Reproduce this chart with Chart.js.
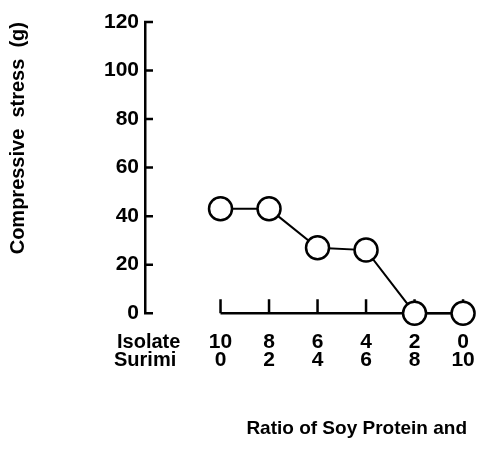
<!DOCTYPE html>
<html>
<head>
<meta charset="utf-8">
<script src="https://cdn.jsdelivr.net/npm/chart.js@4.4.1/dist/chart.umd.min.js"></script>
<style>
  html, body { margin: 0; padding: 0; background: #fff; }
  #wrap { width: 479px; height: 463px; }
</style>
</head>
<body>
<div id="wrap"><canvas id="chart" width="479" height="463"></canvas></div>
<script>
// ratio labels (soy protein isolate : surimi)
const isolate = ["10", "8", "6", "4", "2", "0"];
const surimi = ["0", "2", "4", "6", "8", "10"];
const stress = [43, 43, 27, 26, 0, 0];
const yTicks = [0, 20, 40, 60, 80, 100, 120];
const rowNames = ["Isolate", "Surimi"];

const FONT = "'Liberation Sans', Arial, sans-serif";

// x axis is detached from the y axis: short line with upward ticks, two label rows
const ratioAxis = {
  id: "ratioAxis",
  beforeDatasetsDraw(chart) {
    const { ctx, scales: { x, y } } = chart;
    const y0 = y.getPixelForValue(0);
    ctx.save();
    ctx.strokeStyle = "#000";
    ctx.lineWidth = 2.5;
    ctx.beginPath();
    ctx.moveTo(x.getPixelForValue(0), y0);
    ctx.lineTo(x.getPixelForValue(isolate.length - 1), y0);
    isolate.forEach((_, i) => {
      const px = x.getPixelForValue(i);
      ctx.moveTo(px, y0);
      ctx.lineTo(px, y0 - 14);
    });
    ctx.stroke();

    // y tick marks point into the plot
    ctx.beginPath();
    yTicks.forEach(v => {
      const py = y.getPixelForValue(v);
      ctx.moveTo(y.right - 1, py);
      ctx.lineTo(y.right + 8, py);
    });
    ctx.stroke();
    ctx.restore();
  },
  afterDraw(chart) {
    const { ctx, scales: { x, y } } = chart;
    const y0 = y.getPixelForValue(0);
    ctx.save();
    ctx.fillStyle = "#000";
    ctx.textBaseline = "alphabetic";
    const rows = [isolate, surimi];
    rows.forEach((row, r) => {
      const by = y0 + 35 + r * 18;
      ctx.font = "bold 21px " + FONT;
      ctx.textAlign = "center";
      row.forEach((lab, i) => ctx.fillText(lab, x.getPixelForValue(i), by));
      ctx.font = "bold 20px " + FONT;
      ctx.textAlign = "left";
      ctx.fillText(rowNames[r], 117 - r * 3, by);
    });
    ctx.restore();
  }
};

new Chart(document.getElementById("chart"), {
  type: "line",
  data: {
    labels: isolate,
    datasets: [{
      data: stress.map((v, i) => ({ x: i, y: v })),
      borderColor: "#000",
      borderWidth: 2,
      pointRadius: 11.5,
      pointHoverRadius: 11.5,
      pointBorderWidth: 2.5,
      pointBackgroundColor: "#fff",
      pointBorderColor: "#000",
      tension: 0,
      clip: false
    }]
  },
  plugins: [ratioAxis],
  options: {
    responsive: false,
    animation: false,
    events: [],
    layout: { padding: { left: 0, right: 12, top: 22, bottom: 0 } },
    plugins: {
      legend: { display: false },
      tooltip: { enabled: false },
      title: {
        display: true,
        position: "bottom",
        align: "end",
        text: "Ratio of Soy Protein and",
        color: "#000",
        font: { family: FONT, size: 19, weight: "bold", lineHeight: 1.2 },
        padding: { top: 104, bottom: 23 }
      }
    },
    scales: {
      x: {
        type: "linear",
        display: false,
        min: -1.557,
        max: 5.04
      },
      y: {
        min: 0,
        max: 120,
        afterBuildTicks(scale) {
          scale.ticks = yTicks.map(v => ({ value: v }));
        },
        afterFit(scale) {
          scale.width = 145;
        },
        grid: { display: false, drawTicks: false },
        border: { display: true, color: "#000", width: 2.5 },
        ticks: {
          color: "#000",
          padding: 6,
          font: { family: FONT, size: 21, weight: "bold" }
        },
        title: {
          display: true,
          text: "Compressive  stress  (g)",
          align: "end",
          color: "#000",
          font: { family: FONT, size: 20, weight: "bold", lineHeight: 1.2 },
          padding: { top: 6, bottom: 0 }
        }
      }
    }
  }
});
</script>
</body>
</html>
